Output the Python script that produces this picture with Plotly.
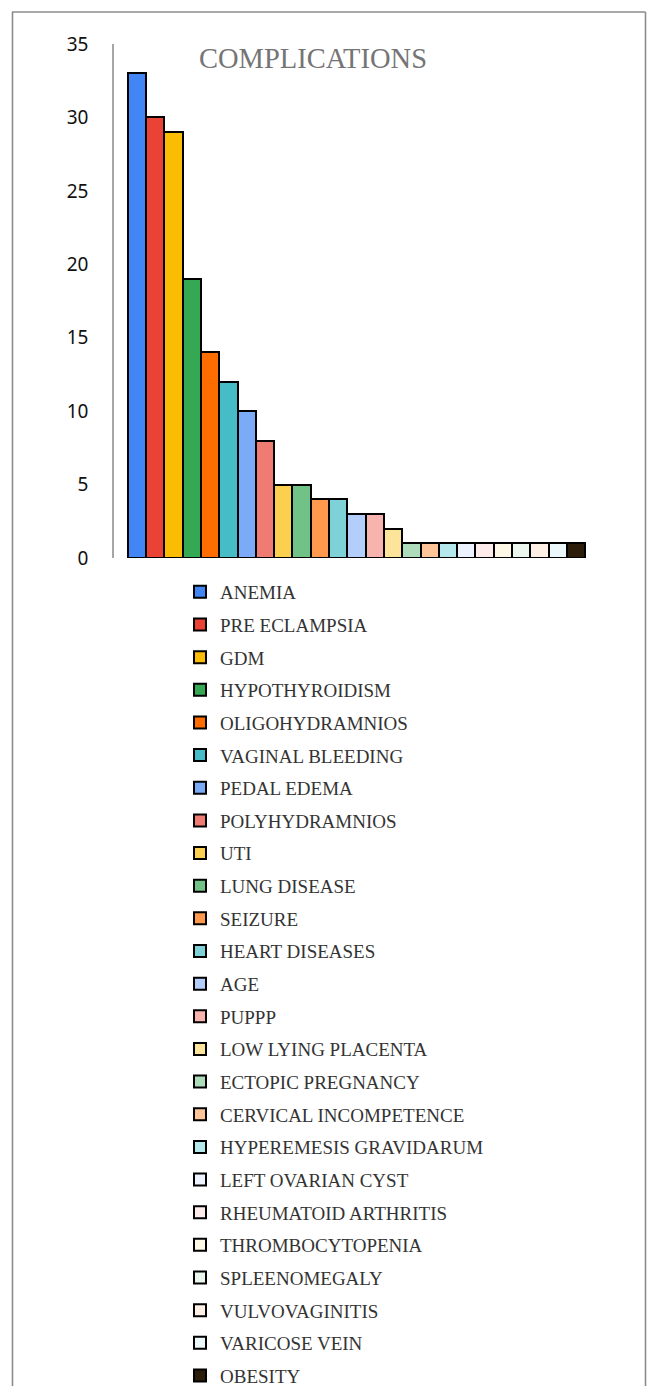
import plotly.graph_objects as go

# Pregnancy complications: counts per category
categories = [
    "ANEMIA", "PRE ECLAMPSIA", "GDM", "HYPOTHYROIDISM", "OLIGOHYDRAMNIOS",
    "VAGINAL BLEEDING", "PEDAL EDEMA", "POLYHYDRAMNIOS", "UTI", "LUNG DISEASE",
    "SEIZURE", "HEART DISEASES", "AGE", "PUPPP", "LOW LYING PLACENTA",
    "ECTOPIC PREGNANCY", "CERVICAL INCOMPETENCE", "HYPEREMESIS GRAVIDARUM",
    "LEFT OVARIAN CYST", "RHEUMATOID ARTHRITIS", "THROMBOCYTOPENIA",
    "SPLEENOMEGALY", "VULVOVAGINITIS", "VARICOSE VEIN", "OBESITY",
]
counts = [33, 30, 29, 19, 14, 12, 10, 8, 5, 5, 4, 4, 3, 3, 2,
          1, 1, 1, 1, 1, 1, 1, 1, 1, 1]
colors = [
    "#4285F4", "#EA4335", "#FBBC04", "#34A853", "#FF6D01",
    "#46BDC6", "#7BAAF7", "#F07B72", "#FCD04F", "#71C287",
    "#FF994D", "#7ED1D7", "#B3CEFB", "#F7B4AE", "#FDE49B",
    "#AEDCBA", "#FFC599", "#B5E8EB", "#ECF3FE", "#FDECEB",
    "#FEF8E6", "#EBF6EE", "#FFF0E6", "#ECF8F9", "#2B1D0A",
]
y_ticks = [0, 5, 10, 15, 20, 25, 30, 35]

W, H = 649, 1386
M_L, M_R, M_T, M_B = 114, 50, 44, 827.5

fig = go.Figure()
for i, (name, val, col) in enumerate(zip(categories, counts, colors)):
    fig.add_trace(go.Bar(
        x=[i], y=[val], name=name, legendgroup=name,
        marker=dict(color=col, line=dict(color="#000000", width=2)),
        width=1.0,
    ))

plot_w = W - M_L - M_R
plot_h = H - M_T - M_B

def px_x(px):
    return (px - M_L) / plot_w

def px_y(py):
    return (H - M_B - py) / plot_h

# outer frame (left, top, right edges)
frame = dict(type="line", xref="paper", yref="paper",
             line=dict(color="#8C8C8C", width=1.6))
shapes = [
    dict(frame, x0=px_x(12.5), x1=px_x(12.5), y0=px_y(12), y1=px_y(H + 5)),
    dict(frame, x0=px_x(12), x1=px_x(645.5), y0=px_y(12), y1=px_y(12)),
    dict(frame, x0=px_x(645.5), x1=px_x(645.5), y0=px_y(12), y1=px_y(H + 5)),
]

fig.update_layout(
    width=W, height=H,
    margin=dict(l=M_L, r=M_R, t=M_T, b=M_B, autoexpand=False),
    paper_bgcolor="white", plot_bgcolor="white",
    barmode="group", bargap=0,
    showlegend=True,
    title=dict(text="COMPLICATIONS", x=313 / W, xanchor="center",
               xref="container", yref="container",
               y=1 - 58 / H, yanchor="middle",
               font=dict(family="Liberation Serif", size=28.5, color="#757575")),
    legend=dict(
        xref="container", yref="container",
        x=180 / W, xanchor="left", y=1 - 573 / H, yanchor="top",
        orientation="v", tracegroupgap=4.95, maxheight=1000,
        font=dict(family="Liberation Serif", size=19, color="#333333"),
        bgcolor="rgba(0,0,0,0)", borderwidth=0,
    ),
    xaxis=dict(range=[-1.25, 25.25], showticklabels=False, showgrid=False,
               zeroline=False, showline=False, ticks=""),
    yaxis=dict(range=[0, 35], tickvals=y_ticks, showgrid=False, zeroline=False,
               showline=True, linecolor="#A6A6A6", linewidth=1.6,
               ticks="", ticklabelstandoff=20,
               tickfont=dict(family="Noto Sans", size=19, color="#111111")),
    shapes=shapes,
)

fig.write_html("out.html")
